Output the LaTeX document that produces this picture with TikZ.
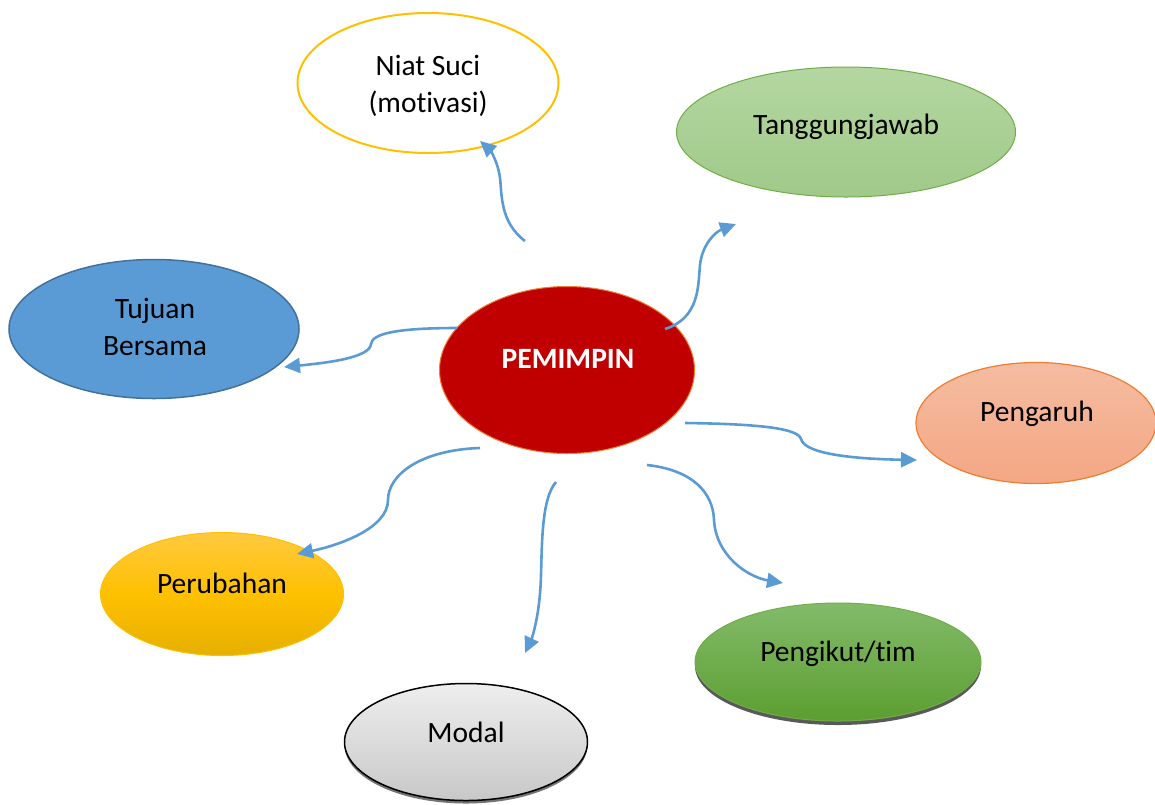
\documentclass[tikz,border=0pt]{standalone}
\usepackage{fontspec}
\setmainfont{Carlito}[Ligatures={NoCommon}]
\usetikzlibrary{shapes.geometric,arrows.meta,shadows}
\definecolor{conn}{HTML}{5B9BD5}
\definecolor{leadred}{HTML}{C00000}
\definecolor{orangeln}{HTML}{ED7D31}
\definecolor{gold}{HTML}{FFC000}
\definecolor{greenln}{HTML}{70AD47}
\definecolor{blueln}{HTML}{41719C}
\begin{document}
\begin{tikzpicture}[x=1pt,y=-1pt,
  bubble/.style={ellipse, inner sep=0pt},
  lbl/.style={font=\fontsize{29.5}{37}\selectfont, text=black, align=center, inner sep=0pt, anchor=base},
  conn/.style={draw=conn, line width=2.6pt, -{Triangle[length=16pt,width=15pt]}},
]
\useasboundingbox (0,0) rectangle (1155,804);

% ellipses
\node[bubble, draw=gold, line width=2pt, fill=white, minimum width=261pt, minimum height=140pt] (niat) at (428,83) {};
\node[bubble, draw=greenln, line width=1pt, top color={rgb,255:red,180;green,215;blue,161}, bottom color={rgb,255:red,160;green,201;blue,137}, minimum width=339pt, minimum height=130pt] (tang) at (846,132) {};
\node[bubble, draw=blueln, line width=1.5pt, fill=conn, minimum width=290pt, minimum height=139pt] (tuju) at (154,329) {};
\node[bubble, draw=orangeln, line width=1pt, fill=leadred, minimum width=255pt, minimum height=167pt] (lead) at (567,370) {};
\node[bubble, draw=orangeln, line width=1.2pt, top color={rgb,255:red,245;green,188;blue,161}, bottom color={rgb,255:red,244;green,167;blue,132}, minimum width=240pt, minimum height=121pt] (peng) at (1036,423) {};
\node[bubble, draw=gold, line width=1pt, top color={rgb,255:red,255;green,201;blue,64}, bottom color={rgb,255:red,230;green,176;blue,0}, middle color=gold, minimum width=243pt, minimum height=123pt] (ubah) at (222,594) {};
\node[bubble, draw=black, line width=1.5pt, top color={rgb,255:red,238;green,238;blue,238}, bottom color={rgb,255:red,200;green,200;blue,200}, minimum width=243pt, minimum height=117pt, drop shadow={shadow xshift=0pt, shadow yshift=-3pt, fill=black!55, opacity=1}] (modal) at (466,742) {};
\node[bubble, draw=greenln, line width=1pt, top color={rgb,255:red,131;green,187;blue,106}, bottom color={rgb,255:red,92;green,158;blue,49}, minimum width=286pt, minimum height=118pt, drop shadow={shadow xshift=0pt, shadow yshift=-4pt, fill=black!65, opacity=1}] (ikut) at (838,662) {};

% labels (base anchor = baseline of last line)
\node[lbl] (tniat) at (428,112) {Niat Suci\\(motivasi)};
\node[lbl] (ttang) at (846,134) {Tanggungjawab};
\node[lbl] (ttuju) at (155,355) {Tujuan\\Bersama};
\node[lbl, text=white, font=\fontsize{29.5}{37}\selectfont\bfseries] (tlead) at (568,368) {PEMIMPIN};
\node[lbl] (tpeng) at (1037,421) {Pengaruh};
\node[lbl] (tubah) at (222,593) {Perubahan};
\node[lbl] (tmodal) at (466,742) {Modal};
\node[lbl] (tikut) at (838,661) {Pengikut/tim};

% connector ends
\coordinate (s1) at (525,241); \coordinate (e1) at (480,141);
\coordinate (s2) at (665,329); \coordinate (e2) at (736,224);
\coordinate (s3) at (457,328); \coordinate (e3) at (284,367);
\coordinate (s4) at (685,423); \coordinate (e4) at (917,460);
\coordinate (s5) at (480,448); \coordinate (e5) at (297,554);
\coordinate (s6) at (556,482); \coordinate (e6) at (525,653);
\coordinate (s7) at (647,465); \coordinate (e7) at (783,583);

\draw[conn] (s1) .. controls (500,222) and (502,195) .. (500,178) .. controls (498,162) and (490,150) .. (e1);
\draw[conn] (s2) .. controls (700,318) and (698,285) .. (700,265) .. controls (702,245) and (715,232) .. (e2);
\draw[conn] (s3) .. controls (395,328) and (372,334) .. (371,344) .. controls (370,358) and (325,363) .. (e3);
\draw[conn] (s4) .. controls (765,424) and (798,429) .. (801,439) .. controls (805,455) and (860,459) .. (e4);
\draw[conn] (s5) .. controls (420,450) and (388,475) .. (388,500) .. controls (388,528) and (340,545) .. (e5);
\draw[conn] (s6) .. controls (542,498) and (542,540) .. (541,575) .. controls (540,615) and (532,638) .. (e6);
\draw[conn] (s7) .. controls (692,470) and (713,492) .. (714,520) .. controls (716,556) and (748,577) .. (e7);
\end{tikzpicture}
\end{document}
